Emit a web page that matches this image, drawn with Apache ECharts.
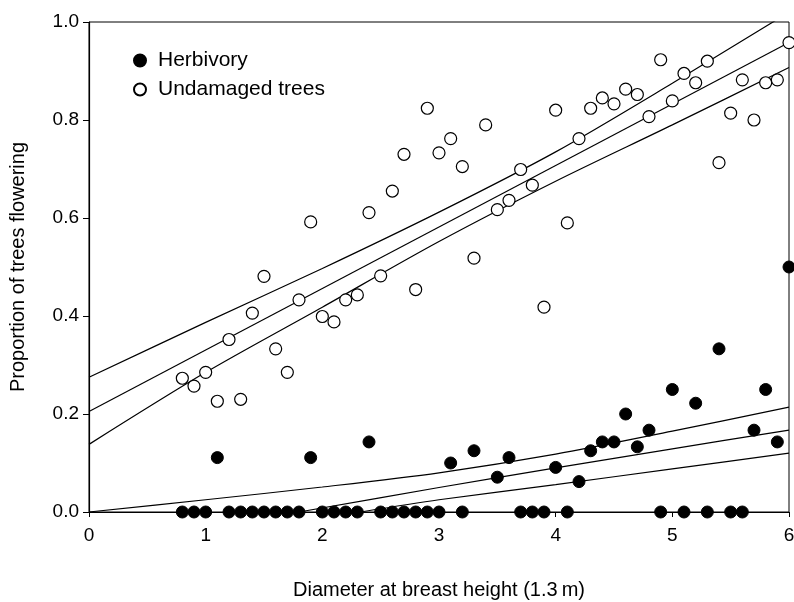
<!DOCTYPE html>
<html>
    <head>
        <meta charset="utf-8">
        <script src="https://cdn.jsdelivr.net/npm/echarts@6/dist/echarts.min.js"></script>
    </head>
    <body>
        <style>
            html, body{
                width: 100%;
                height: 100%;
                margin: 0;
                background: #fff;
            }
            #main{
                width: 794px;
                height: 602px;
            }
        </style>
        <div id="main"></div>
        <script>
            // diameter classes (m)
            var diam = [0.8, 0.9, 1.0, 1.1, 1.2, 1.3, 1.4, 1.5, 1.6, 1.7, 1.8, 1.9,
                        2.0, 2.1, 2.2, 2.3, 2.4, 2.5, 2.6, 2.7, 2.8, 2.9,
                        3.0, 3.1, 3.2, 3.3, 3.4, 3.5, 3.6, 3.7, 3.8, 3.9,
                        4.0, 4.1, 4.2, 4.3, 4.4, 4.5, 4.6, 4.7, 4.8, 4.9,
                        5.0, 5.1, 5.2, 5.3, 5.4, 5.5, 5.6, 5.7, 5.8, 5.9, 6.0];
            var undamaged = [0.273, 0.257, 0.285, 0.226, 0.352, 0.230, 0.406, 0.481, 0.333, 0.285, 0.433, 0.592,
                             0.399, 0.388, 0.433, 0.443, 0.611, 0.482, 0.655, 0.730, 0.454, 0.824,
                             0.733, 0.762, 0.705, 0.518, 0.790, 0.617, 0.636, 0.699, 0.667, 0.418,
                             0.820, 0.590, 0.762, 0.824, 0.845, 0.833, 0.863, 0.852, 0.807, 0.923,
                             0.839, 0.895, 0.876, 0.920, 0.713, 0.814, 0.882, 0.800, 0.876, 0.882, 0.958];
            var herbivory = [0, 0, 0, 0.111, 0, 0, 0, 0, 0, 0, 0, 0.111,
                             0, 0, 0, 0, 0.143, 0, 0, 0, 0, 0,
                             0, 0.100, 0, 0.125, null, 0.071, 0.111, 0, 0, 0,
                             0.091, 0, 0.062, 0.125, 0.143, 0.143, 0.200, 0.133, 0.167, 0,
                             0.250, 0, 0.222, 0, 0.333, 0, 0, 0.167, 0.250, 0.143, 0.500];

            // fitted lines and bands
            var fitX = [0, 6];
            var undFit = [0.205, 0.958];
            var bandX = [0, 1, 2, 3, 4, 5, 6];
            var undUpper = [0.275, 0.387, 0.497, 0.612, 0.735, 0.875, 1.02];
            var undLower = [0.138, 0.285, 0.418, 0.552, 0.675, 0.790, 0.907];
            var herbUpper = [0, 0.025, 0.051, 0.080, 0.118, 0.165, 0.214];
            var herbMidX = [1.8, 3, 4, 5, 6];
            var herbMid = [0, 0.050, 0.090, 0.129, 0.167];
            var herbLowX = [2.33, 3, 4, 5, 6];
            var herbLow = [0, 0.025, 0.056, 0.088, 0.120];

            function pairs(xs, ys){
                var out = [];
                for (var i = 0; i < xs.length; i++) {
                    if (ys[i] !== null) out.push([xs[i], ys[i]]);
                }
                return out;
            }

            var font = 'Liberation Sans, Arial, sans-serif';
            function lineSeries(xs, ys){
                return {
                    type: 'line',
                    data: pairs(xs, ys),
                    symbol: 'none',
                    smooth: 0.3,
                    silent: true,
                    z: 1,
                    lineStyle: {color: '#000', width: 1.2}
                };
            }

            var chart = echarts.init(document.getElementById('main'));
            var option = {
                animation: false,
                grid: {
                    left: 89, right: 5, top: 22, bottom: 90,
                    outerBoundsMode: 'none',
                    containLabel: false,
                    show: true, borderColor: '#000', borderWidth: 1
                },
                legend: {
                    data: ['Herbivory', 'Undamaged trees'],
                    orient: 'vertical',
                    left: 128,
                    top: 45,
                    itemWidth: 12,
                    itemHeight: 12,
                    itemGap: 8,
                    textStyle: {color: '#000', fontSize: 21, fontFamily: font, padding: [0, 0, 0, 7]}
                },
                xAxis: {
                    type: 'value',
                    min: 0, max: 6, interval: 1,
                    name: 'Diameter at breast height (1.3\u2009m)',
                    nameLocation: 'middle',
                    nameGap: 68,
                    nameTextStyle: {color: '#000', fontSize: 20, fontFamily: font},
                    axisLine: {show: true, lineStyle: {color: '#000', width: 1.2}},
                    axisTick: {show: true, length: 5, lineStyle: {color: '#000'}},
                    axisLabel: {color: '#000', fontSize: 19, fontFamily: font, margin: 14},
                    splitLine: {show: false}
                },
                yAxis: {
                    type: 'value',
                    min: 0, max: 1, interval: 0.2,
                    name: 'Proportion of trees flowering',
                    nameLocation: 'middle',
                    nameGap: 61,
                    nameTextStyle: {color: '#000', fontSize: 20, fontFamily: font},
                    axisLine: {show: true, lineStyle: {color: '#000', width: 1.2}},
                    axisTick: {show: true, length: 6, lineStyle: {color: '#000'}},
                    axisLabel: {color: '#000', fontSize: 19, fontFamily: font, margin: 10,
                        formatter: function (v) { return v.toFixed(1); }},
                    splitLine: {show: false}
                },
                series: [
                    lineSeries(fitX, undFit),
                    lineSeries(bandX, undUpper),
                    lineSeries(bandX, undLower),
                    lineSeries(bandX, herbUpper),
                    lineSeries(herbMidX, herbMid),
                    lineSeries(herbLowX, herbLow),
                    {
                        name: 'Herbivory',
                        type: 'scatter',
                        data: pairs(diam, herbivory),
                        symbol: 'circle',
                        symbolSize: 12,
                        z: 3,
                        clip: false,
                        itemStyle: {color: '#000', borderColor: '#000', borderWidth: 1, opacity: 1}
                    },
                    {
                        name: 'Undamaged trees',
                        type: 'scatter',
                        data: pairs(diam, undamaged),
                        symbol: 'circle',
                        symbolSize: 12,
                        z: 3,
                        clip: false,
                        itemStyle: {color: '#fff', borderColor: '#000', borderWidth: 1.2, opacity: 1}
                    }
                ]
            };
            chart.setOption(option);
        </script>
    </body>
</html>
